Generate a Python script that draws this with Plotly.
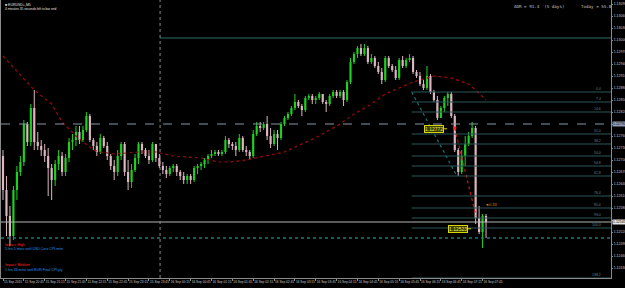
import plotly.graph_objects as go

# ---------------- data ----------------
bar_labels = ["15 Sep 2015", "15 Sep 20:45", "15 Sep 21:15", "15 Sep 21:45", "15 Sep 22:15", "15 Sep 22:45",
              "15 Sep 23:15", "15 Sep 23:45", "16 Sep 00:15", "16 Sep 00:45", "16 Sep 01:15", "16 Sep 01:45",
              "16 Sep 02:15", "16 Sep 02:45", "16 Sep 03:15", "16 Sep 03:45", "16 Sep 04:15", "16 Sep 04:45",
              "16 Sep 05:15", "16 Sep 05:45", "16 Sep 06:15", "16 Sep 06:45", "16 Sep 07:15", "16 Sep 07:45"]
label_step = 6

opens = [1.12710, 1.12625, 1.12560, 1.12510, 1.12625, 1.12670, 1.12695, 1.12790, 1.12745, 1.12830,
         1.12745, 1.12735, 1.12725, 1.12710, 1.12680, 1.12650, 1.12690, 1.12710, 1.12670, 1.12705,
         1.12745, 1.12750, 1.12770, 1.12750, 1.12775, 1.12810, 1.12750, 1.12735, 1.12720, 1.12755,
         1.12735, 1.12710, 1.12685, 1.12670, 1.12710, 1.12740, 1.12670, 1.12645, 1.12675, 1.12705,
         1.12740, 1.12725, 1.12710, 1.12700, 1.12740, 1.12705, 1.12685, 1.12675, 1.12665, 1.12680,
         1.12685, 1.12670, 1.12660, 1.12650, 1.12660, 1.12650, 1.12680, 1.12685, 1.12690, 1.12700,
         1.12710, 1.12715, 1.12720, 1.12715, 1.12720, 1.12750, 1.12740, 1.12735, 1.12725, 1.12755,
         1.12725, 1.12720, 1.12710, 1.12765, 1.12785, 1.12780, 1.12790, 1.12760, 1.12740, 1.12765,
         1.12755, 1.12790, 1.12805, 1.12815, 1.12830, 1.12845, 1.12835, 1.12825, 1.12855, 1.12860,
         1.12850, 1.12855, 1.12865, 1.12845, 1.12840, 1.12860, 1.12870, 1.12860, 1.12870, 1.12850,
         1.12895, 1.12945, 1.12965, 1.12980, 1.12965, 1.12980, 1.12945, 1.12955, 1.12935, 1.12920,
         1.12900, 1.12955, 1.12935, 1.12925, 1.12905, 1.12950, 1.12935, 1.12950, 1.12955, 1.12920,
         1.12910, 1.12890, 1.12880, 1.12910, 1.12870, 1.12850, 1.12805, 1.12830, 1.12855, 1.12865,
         1.12810, 1.12725, 1.12670, 1.12710, 1.12740, 1.12760, 1.12780, 1.12555, 1.12520, 1.12560]
highs = [1.12725, 1.12660, 1.12585, 1.12635, 1.12685, 1.12710, 1.12800, 1.12795, 1.12840, 1.12875,
         1.12770, 1.12750, 1.12740, 1.12730, 1.12690, 1.12700, 1.12725, 1.12720, 1.12715, 1.12755,
         1.12765, 1.12785, 1.12785, 1.12785, 1.12820, 1.12815, 1.12755, 1.12745, 1.12765, 1.12760,
         1.12745, 1.12715, 1.12700, 1.12725, 1.12745, 1.12745, 1.12700, 1.12690, 1.12715, 1.12745,
         1.12745, 1.12730, 1.12725, 1.12745, 1.12740, 1.12715, 1.12695, 1.12685, 1.12685, 1.12690,
         1.12690, 1.12675, 1.12670, 1.12665, 1.12665, 1.12685, 1.12690, 1.12695, 1.12705, 1.12715,
         1.12725, 1.12725, 1.12725, 1.12725, 1.12760, 1.12755, 1.12745, 1.12745, 1.12765, 1.12760,
         1.12735, 1.12725, 1.12775, 1.12795, 1.12795, 1.12795, 1.12810, 1.12780, 1.12775, 1.12775,
         1.12795, 1.12810, 1.12820, 1.12835, 1.12865, 1.12850, 1.12840, 1.12860, 1.12865, 1.12865,
         1.12860, 1.12870, 1.12865, 1.12850, 1.12865, 1.12875, 1.12875, 1.12875, 1.12875, 1.12900,
         1.12955, 1.12970, 1.12985, 1.12990, 1.12990, 1.12985, 1.12965, 1.12960, 1.12945, 1.12930,
         1.12960, 1.12960, 1.12940, 1.12935, 1.12955, 1.12960, 1.12955, 1.12965, 1.12960, 1.12925,
         1.12920, 1.12900, 1.12935, 1.12915, 1.12875, 1.12860, 1.12835, 1.12860, 1.12870, 1.12870,
         1.12815, 1.12730, 1.12725, 1.12760, 1.12770, 1.12795, 1.12785, 1.12585, 1.12565, 1.12565]
lows = [1.12600, 1.12510, 1.12485, 1.12500, 1.12600, 1.12660, 1.12685, 1.12735, 1.12735, 1.12725,
        1.12725, 1.12710, 1.12695, 1.12610, 1.12600, 1.12635, 1.12675, 1.12660, 1.12660, 1.12695,
        1.12725, 1.12735, 1.12740, 1.12745, 1.12770, 1.12745, 1.12725, 1.12710, 1.12715, 1.12730,
        1.12700, 1.12675, 1.12650, 1.12660, 1.12700, 1.12660, 1.12625, 1.12630, 1.12670, 1.12690,
        1.12715, 1.12705, 1.12690, 1.12695, 1.12695, 1.12680, 1.12665, 1.12655, 1.12660, 1.12670,
        1.12660, 1.12650, 1.12640, 1.12640, 1.12640, 1.12645, 1.12665, 1.12675, 1.12680, 1.12690,
        1.12705, 1.12710, 1.12710, 1.12710, 1.12715, 1.12730, 1.12725, 1.12710, 1.12720, 1.12720,
        1.12710, 1.12700, 1.12705, 1.12760, 1.12770, 1.12775, 1.12750, 1.12730, 1.12735, 1.12725,
        1.12750, 1.12785, 1.12800, 1.12810, 1.12825, 1.12830, 1.12810, 1.12820, 1.12850, 1.12840,
        1.12840, 1.12850, 1.12840, 1.12820, 1.12835, 1.12855, 1.12855, 1.12855, 1.12835, 1.12845,
        1.12890, 1.12940, 1.12955, 1.12960, 1.12960, 1.12940, 1.12940, 1.12930, 1.12915, 1.12890,
        1.12895, 1.12930, 1.12920, 1.12900, 1.12900, 1.12930, 1.12930, 1.12945, 1.12915, 1.12905,
        1.12885, 1.12875, 1.12875, 1.12865, 1.12845, 1.12800, 1.12805, 1.12820, 1.12835, 1.12805,
        1.12720, 1.12660, 1.12665, 1.12685, 1.12735, 1.12755, 1.12540, 1.12515, 1.12480, 1.12505]
closes = [1.12625, 1.12560, 1.12510, 1.12625, 1.12670, 1.12695, 1.12790, 1.12745, 1.12830, 1.12745,
          1.12735, 1.12725, 1.12710, 1.12680, 1.12650, 1.12690, 1.12710, 1.12670, 1.12705, 1.12745,
          1.12750, 1.12770, 1.12750, 1.12775, 1.12810, 1.12750, 1.12735, 1.12720, 1.12755, 1.12735,
          1.12710, 1.12685, 1.12670, 1.12710, 1.12740, 1.12670, 1.12645, 1.12675, 1.12705, 1.12740,
          1.12725, 1.12710, 1.12700, 1.12740, 1.12705, 1.12685, 1.12675, 1.12665, 1.12680, 1.12685,
          1.12670, 1.12660, 1.12650, 1.12660, 1.12650, 1.12680, 1.12685, 1.12690, 1.12700, 1.12710,
          1.12715, 1.12720, 1.12715, 1.12720, 1.12750, 1.12740, 1.12735, 1.12725, 1.12755, 1.12725,
          1.12720, 1.12710, 1.12765, 1.12785, 1.12780, 1.12790, 1.12760, 1.12740, 1.12765, 1.12755,
          1.12790, 1.12805, 1.12815, 1.12830, 1.12845, 1.12835, 1.12825, 1.12855, 1.12860, 1.12850,
          1.12855, 1.12865, 1.12845, 1.12840, 1.12860, 1.12870, 1.12860, 1.12870, 1.12850, 1.12895,
          1.12945, 1.12965, 1.12980, 1.12965, 1.12980, 1.12945, 1.12955, 1.12935, 1.12920, 1.12900,
          1.12955, 1.12935, 1.12925, 1.12905, 1.12950, 1.12935, 1.12950, 1.12955, 1.12920, 1.12910,
          1.12890, 1.12880, 1.12910, 1.12870, 1.12850, 1.12805, 1.12830, 1.12855, 1.12865, 1.12810,
          1.12725, 1.12670, 1.12710, 1.12740, 1.12760, 1.12780, 1.12555, 1.12520, 1.12560, 1.12545]

ma_idx = [0, 9, 14, 17, 21, 26, 28, 32, 39, 44, 49, 57, 62, 65, 70, 76, 81, 86, 91, 97,
          101, 106, 110, 114, 118, 124, 129, 134, 136, 139]
ma_val = [1.12960, 1.12875, 1.12840, 1.12795, 1.12760, 1.12725, 1.12720, 1.12715, 1.12720, 1.12720,
          1.12710, 1.12705, 1.12695, 1.12695, 1.12700, 1.12710, 1.12720, 1.12740, 1.12760, 1.12790,
          1.12815, 1.12840, 1.12865, 1.12880, 1.12895, 1.12910, 1.12905, 1.12890, 1.12875, 1.12850]

y_ticks = [1.12430, 1.12460, 1.12490, 1.12520, 1.12550, 1.12580, 1.12610, 1.12640, 1.12670,
           1.12700, 1.12730, 1.12760, 1.12790, 1.12820, 1.12850, 1.12880, 1.12910, 1.12940, 1.12970,
           1.13000, 1.13030, 1.13060, 1.13090]

fib_start = 117.6
fib_prices = [1.12870, 1.12845, 1.12820, 1.12765, 1.12740, 1.12710, 1.12685, 1.12660, 1.12610,
              1.12580, 1.12555, 1.12530, 1.12405]
fib_labels = ["0.0", "7.4", "14.6", "31.0", "38.2", "50.0", "54.8", "61.8", "76.4",
              "85.4", "93.0", "100.0", "138.2"]
top_level = 1.13005
dash_level = 1.12790
dot_level = 1.12505
day_sep = 45.2
trend_teal = [(117.6, 1.12870), (130.6, 1.12660)]
trend_red = [(130.0, 1.12780), (136.1, 1.12560)]
box_labels = [("1.12772", 127.8, 1.12778, -13), ("1.12523", 134.7, 1.12528, -13)]
adr_text = "ADR = 91.4  (5 days)"
today_text = "Today = 55.8"

# ---------------- figure ----------------
x_range = [-0.5755, 174.96]
y_range = [1.12405, 1.131]
BULL = "#1fd11f"
BEAR = "#dcb6c0"

n = len(opens)
idx = list(range(n))
fig = go.Figure()

for is_bull, col in [(True, BULL), (False, BEAR)]:
    sel = [i for i in idx if (closes[i] > opens[i]) == is_bull]
    wx, wy = [], []
    for i in sel:
        wx += [i, i, None]
        wy += [lows[i], highs[i], None]
    fig.add_trace(go.Scatter(x=wx, y=wy, mode="lines", line=dict(color=col, width=1),
                             hoverinfo="skip"))
    fig.add_trace(go.Bar(x=sel,
                         y=[max(abs(closes[i] - opens[i]), 0.000015) for i in sel],
                         base=[min(closes[i], opens[i]) for i in sel],
                         width=0.62, marker=dict(color=col, line=dict(width=0))))

fig.add_trace(go.Scatter(x=ma_idx, y=ma_val, mode="lines",
                         line=dict(color="#9a0c0c", width=1.2, dash="dot")))
fig.add_trace(go.Scatter(x=[p[0] for p in trend_teal], y=[p[1] for p in trend_teal], mode="lines",
                         line=dict(color="#1c7070", width=1.2, dash="dot")))
fig.add_trace(go.Scatter(x=[p[0] for p in trend_red], y=[p[1] for p in trend_red], mode="lines",
                         line=dict(color="#c01818", width=1.2, dash="dot")))
fig.add_trace(go.Scatter(x=[trend_red[0][0]], y=[trend_red[0][1]], mode="markers",
                         marker=dict(symbol="square", size=3, color="#ff2020")))

shapes = []
for p in fib_prices:
    shapes.append(dict(type="line", xref="x", yref="y", x0=fib_start, x1=x_range[1], y0=p, y1=p,
                       line=dict(color="#2c5858", width=1)))
shapes.append(dict(type="line", xref="x", yref="y", x0=day_sep, x1=x_range[1], y0=top_level, y1=top_level,
                   line=dict(color="#2a6c66", width=1)))
shapes.append(dict(type="line", xref="paper", yref="y", x0=0, x1=1, y0=dash_level, y1=dash_level,
                   line=dict(color="#8a96aa", width=1, dash="dash")))
shapes.append(dict(type="line", xref="paper", yref="y", x0=0, x1=1, y0=closes[-1], y1=closes[-1],
                   line=dict(color="#b4b4b4", width=1)))
shapes.append(dict(type="line", xref="paper", yref="y", x0=0, x1=1, y0=dot_level, y1=dot_level,
                   line=dict(color="#1f7878", width=1.5, dash="dot")))
shapes.append(dict(type="line", xref="x", yref="paper", x0=day_sep, x1=day_sep, y0=0, y1=1,
                   line=dict(color="#8c8c8c", width=1, dash="dot")))

ann = []
for p, t in zip(fib_prices, fib_labels):
    ann.append(dict(x=172.8, y=p, xref="x", yref="y", text=t, showarrow=False, xanchor="right",
                    yanchor="bottom", yshift=-1, font=dict(size=3.5, color="#6c8080", family="Liberation Sans")))
for t, xt, yt, axp in box_labels:
    ann.append(dict(x=xt, y=yt, xref="x", yref="y", text=t, showarrow=True, arrowhead=0, arrowwidth=1,
                    arrowcolor="#d8d800", ax=axp, ay=0, bgcolor="#3c3c00", bordercolor="#d8d800",
                    borderwidth=1, borderpad=0, font=dict(size=5, color="#f0f040", family="Liberation Sans")))
ann.append(dict(x=140.7, y=1.12588, xref="x", yref="y", text="\u25c40.33", showarrow=False,
                font=dict(size=4, color="#d08a10", family="Liberation Sans")))
ann.append(dict(x=1.0, y=closes[-1], xref="paper", yref="y", text=f"{closes[-1]:.5f}", showarrow=False,
                xanchor="left", xshift=1, bgcolor="#e6e6e6", borderpad=0,
                font=dict(size=3.5, color="#000000", family="Liberation Sans")))
ann.append(dict(x=1.0, y=dash_level, xref="paper", yref="y", text=f"{dash_level:.5f}", showarrow=False,
                xanchor="left", xshift=1, bgcolor="#8c9cb8", borderpad=0,
                font=dict(size=3.5, color="#101018", family="Liberation Sans")))
ann.append(dict(x=0.003, y=0.997, xref="paper", yref="paper", text="\u25a0 EURUSD+,M5", showarrow=False,
                xanchor="left", yanchor="top", font=dict(size=3.5, color="#e0e0e0", family="Liberation Sans")))
ann.append(dict(x=0.003, y=0.982, xref="paper", yref="paper", text="4 minutes 35 seconds left to bar end",
                showarrow=False, xanchor="left", yanchor="top",
                font=dict(size=3.2, color="#e0e0e0", family="Liberation Sans")))
ann.append(dict(x=0.838, y=0.975, xref="paper", yref="paper", text=adr_text, showarrow=False,
                xanchor="left", yanchor="middle", font=dict(size=4.2, color="#c8c8c8", family="DejaVu Sans Mono")))
ann.append(dict(x=0.947, y=0.975, xref="paper", yref="paper", text=today_text, showarrow=False,
                xanchor="left", yanchor="middle", font=dict(size=4.2, color="#c8c8c8", family="DejaVu Sans Mono")))
impact = [("Impact: High", "#ff2424", 0.12), ("5 hrs 5 mins until USD Core CPI m/m", "#1e96e6", 0.105),
          ("Impact: Medium", "#ff2424", 0.047), ("1 hrs 36 mins until EUR Final CPI y/y", "#1e96e6", 0.03)]
for t, c, yp in impact:
    ann.append(dict(x=0.003, y=yp, xref="paper", yref="paper", text=t, showarrow=False, xanchor="left",
                    yanchor="middle", font=dict(size=3.5, color=c, family="Liberation Sans")))

# tick texts hidden where a highlighted price label covers them (as on the terminal)
covered = [closes[-1], dash_level]
y_text = ["" if min(abs(v - c) for c in covered) < 0.00012 else f"{v:.5f}" for v in y_ticks]

fig.update_layout(
    width=625, height=288, margin=dict(l=1, r=14, t=0, b=10),
    paper_bgcolor="#000000", plot_bgcolor="#000000",
    showlegend=False, barmode="overlay", shapes=shapes, annotations=ann,
    xaxis=dict(range=x_range, showgrid=False, zeroline=False, showline=True, linecolor="#8a8a8a",
               linewidth=1, mirror=True, ticks="outside", ticklen=2, tickcolor="#8a8a8a",
               tickvals=[k * label_step for k in range(len(bar_labels))], ticktext=bar_labels,
               ticklabelposition="outside right", tickangle=0, automargin=False,
               tickfont=dict(size=3.2, color="#c8c8c8", family="Liberation Sans")),
    yaxis=dict(range=y_range, side="right", showgrid=False, zeroline=False, showline=True,
               linecolor="#8a8a8a", linewidth=1, mirror=True, ticks="outside", ticklen=1,
               tickcolor="#8a8a8a", tickvals=y_ticks, ticktext=y_text,
               automargin=False, tickfont=dict(size=3.5, color="#c8c8c8", family="Liberation Sans")),
)

fig.write_html("out.html")
